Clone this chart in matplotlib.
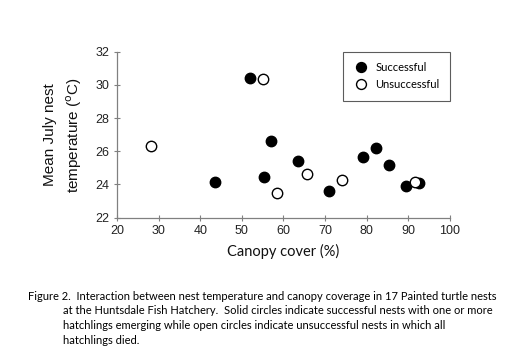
import numpy as np
import matplotlib as mpl
mpl.use('Agg')
import matplotlib.pyplot as plt

# 成功巢（實心圓）
success_canopy = [52.0, 43.6, 55.2, 57.0, 63.4, 70.9, 79.1, 82.3, 85.3, 89.4, 92.6]
success_temp = [30.43, 24.15, 24.47, 26.64, 25.43, 23.63, 25.67, 26.18, 25.17, 23.93, 24.11]

# 失敗巢（空心圓）
fail_canopy = [55.0, 28.1, 58.4, 65.7, 74.0, 91.7]
fail_temp = [30.37, 26.30, 23.47, 24.65, 24.29, 24.13]

x_ticks = [20, 30, 40, 50, 60, 70, 80, 90, 100]
y_ticks = [22, 24, 26, 28, 30, 32]

caption_lines = [
    "Figure 2.  Interaction between nest temperature and canopy coverage in 17 Painted turtle nests",
    "at the Huntsdale Fish Hatchery.  Solid circles indicate successful nests with one or more",
    "hatchlings emerging while open circles indicate unsuccessful nests in which all",
    "hatchlings died.",
]

arial = "Liberation Sans"
calibri = "Lato"
axis_gray = "#808080"

fig = plt.figure(figsize=(5.09, 3.63), dpi=100, facecolor="white")
ax = fig.add_axes([0.2299, 0.4003, 0.884 - 0.2299, 0.8576 - 0.4003])

ax.plot(success_canopy, success_temp, "o", ms=7.5, color="black", mec="black", label="Successful")
ax.plot(fail_canopy, fail_temp, "o", ms=7.5, mfc="white", mec="black", mew=1.0, label="Unsuccessful")

ax.set_xlim(20, 100)
ax.set_ylim(22, 32)
ax.set_xticks(x_ticks)
ax.set_yticks(y_ticks)
ax.set_xticklabels([str(v) for v in x_ticks], fontsize=9, family=arial, color="#222222")
ax.set_yticklabels([str(v) for v in y_ticks], fontsize=9, family=arial, color="#222222")
ax.tick_params(axis="both", direction="inout", length=5, width=0.8, color=axis_gray, pad=3)

for side in ("top", "right"):
    ax.spines[side].set_visible(False)
for side in ("left", "bottom"):
    ax.spines[side].set_color(axis_gray)
    ax.spines[side].set_linewidth(0.9)

ax.set_xlabel("Canopy cover (%)", fontsize=10.5, family=calibri, color="#111111", labelpad=5)
ax.set_ylabel("Mean July nest\ntemperature ($^{\\rm o}$C)", fontsize=11, family=arial,
              color="#111111", labelpad=8, linespacing=1.5)

leg = ax.legend(loc="upper right", bbox_to_anchor=(1.0, 1.0), borderaxespad=0, frameon=True,
                fancybox=False, prop={"family": calibri, "size": 8}, handletextpad=0.6,
                borderpad=0.95, labelspacing=0.55, handlelength=1.3, markerscale=0.95)
leg.get_frame().set_edgecolor("#333333")
leg.get_frame().set_linewidth(0.8)

# 圖說
fig.text(28 / 509, 1 - 296 / 363, caption_lines[0], fontsize=8.0, family=calibri, va="center", ha="left")
for i, line in enumerate(caption_lines[1:]):
    fig.text(63 / 509, 1 - (311 + 14.6 * i) / 363, line, fontsize=8.0, family=calibri, va="center", ha="left")

fig.savefig("out.png", dpi=100, facecolor="white")
